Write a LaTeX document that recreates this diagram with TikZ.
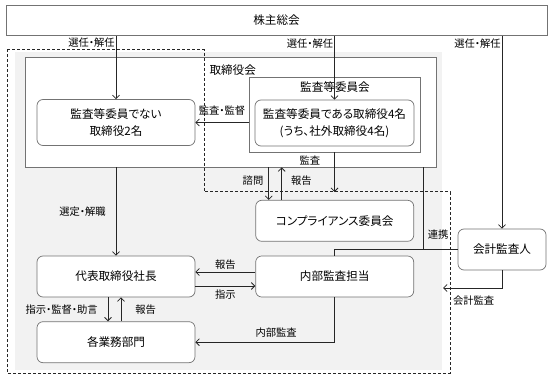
\documentclass[tikz,border=0pt]{standalone}
\usepackage{fontspec}
\setmainfont{Noto Sans CJK JP}[RawFeature=+palt]
\usetikzlibrary{positioning, arrows.meta, backgrounds, calc}

\begin{document}
\begin{tikzpicture}[
        x=1pt, y=-1pt,
        font=\fontsize{11.6}{17}\selectfont,
        hako/.style={draw=black!55, fill=white, rounded corners=6pt, align=center, minimum width=158pt, minimum height=41pt, inner sep=2pt, line width=0.7pt},
        waku/.style={draw=black!55, fill=white, line width=0.7pt, inner sep=0pt},
        raberu/.style={font=\fontsize{10.3}{12}\selectfont, inner sep=1pt},
        yajirushi/.style={-{Straight Barb[length=3.5pt, width=7pt]}, line width=0.8pt, draw=black!85},
        sen/.style={line width=0.8pt, draw=black!85},
        hasen/.style={dash pattern=on 3pt off 2pt, line width=1pt, draw=black!85},
    ]
    \useasboundingbox (0,0) rectangle (551,379);
    \fill[gray!10] (15,52) rectangle (442,370);
    \node[waku, minimum width=541pt, minimum height=30pt] (kabunushi) at (276.5,20.5) {株主総会};
    \node[waku, minimum width=411pt, minimum height=110pt] (torishimari) at (230.5,112) {};
    \node[waku, minimum width=171pt, minimum height=75pt] (iinkai) at (334.5,114.5) {};
    \node[anchor=west] (torishimarimei) at (206,70) {取締役会};
    \node (iinkaimei) at (335,87) {監査等委員会};
    \node[hako, minimum height=46pt] (hi) at (116,122.5) {監査等委員でない\\取締役2名};
    \node[hako, minimum height=46pt, minimum width=159pt] (kansatou) at (334.5,123)
        {監査等委員である取締役4名\\(うち、社外取締役4名)};
    \node[hako] (shachou) at (116,276.5) {代表取締役社長};
    \node[hako, right=60pt of shachou] (naibu) {内部監査担当};
    \node[hako, above=14pt of naibu] (compl) {コンプライアンス委員会};
    \node[hako, below=24pt of shachou] (bumon) {各業務部門};
    \node[hako, minimum width=88pt] (kaikei) at (502,249.5) {会計監査人};
    \coordinate (kado) at (204,192);
    \coordinate (kaikeisaki) at (443,288);
    \draw[hasen] (7,50) -- (7,50 -| kado) -- (kado) -- (450,192) -- (450,373) -- (7,373) -- cycle;
    \draw[yajirushi] (kabunushi.south -| hi.north) -- node[raberu, pos=0.11, left] {選任・解任} (hi.north);
    \draw[yajirushi] (kabunushi.south -| kansatou.north) -- node[raberu, pos=0.12, left] {選任・解任} (kansatou.north);
    \draw[yajirushi] (kabunushi.south -| kaikei.north) -- node[raberu, pos=0.04, left] {選任・解任} (kaikei.north);
    \draw[yajirushi] (iinkai.west |- hi.east) -- node[raberu, above=6pt] {監査・監督} (hi.east);
    \draw[yajirushi] (torishimari.south -| shachou.north) -- node[raberu, left=9pt] {選定・解職} (shachou.north);
    \draw[yajirushi] ([xshift=-66pt]compl.north |- torishimari.south) -- node[raberu, pos=0.4, left=4pt] {諮問}
        ([xshift=-66pt]compl.north);
    \draw[yajirushi] ([xshift=-53pt]compl.north) -- node[raberu, pos=0.6, right=8pt] {報告}
        ([xshift=-53pt]compl.north |- torishimari.south);
    \draw[yajirushi] (iinkai.south) -- node[raberu, pos=0.2, left=13pt] {監査} (iinkai.south |- kado);
    \draw[sen] ([xshift=-13pt]torishimari.south east) -- node[raberu, pos=0.82, right=3pt] {連携}
        ([xshift=-13pt]torishimari.south east |- kaikei.west);
    \draw[sen] (naibu.north) |- (kaikei.west);
    \draw[yajirushi] (kaikei.south) |- node[raberu, pos=0.74, below=6pt] {会計監査} (kaikeisaki);
    \draw[yajirushi] ([yshift=4.5pt]naibu.west) -- node[raberu, above=1.5pt] {報告} ([yshift=4.5pt]shachou.east);
    \draw[yajirushi] ([yshift=-9.5pt]shachou.east) -- node[raberu, below=2.5pt] {指示} ([yshift=-9.5pt]naibu.west);
    \draw[yajirushi] ([xshift=-8pt]shachou.south) -- node[raberu, left=9pt] {指示・監督・助言} ([xshift=-8pt]bumon.north);
    \draw[yajirushi] ([xshift=5pt]bumon.north) -- node[raberu, right=13pt] {報告} ([xshift=5pt]shachou.south);
    \draw[yajirushi] (naibu.south) |- node[raberu, pos=0.71, above=3pt] {内部監査} (bumon.east);
\end{tikzpicture}
\end{document}
